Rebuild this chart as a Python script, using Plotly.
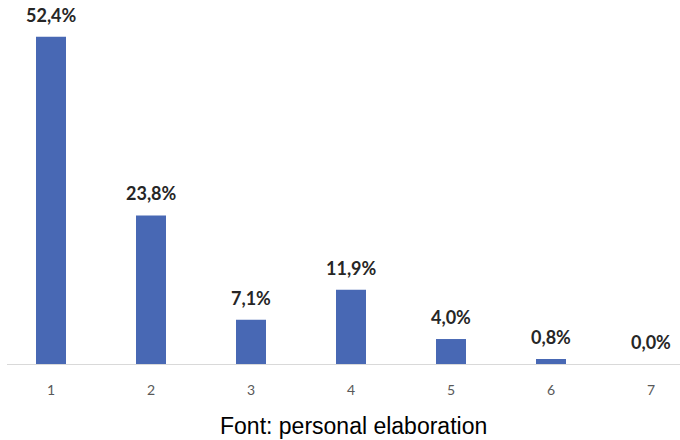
import plotly.graph_objects as go

categories = [1, 2, 3, 4, 5, 6, 7]
values = [52.4, 23.8, 7.1, 11.9, 4.0, 0.8, 0.0]
labels = ["52,4%", "23,8%", "7,1%", "11,9%", "4,0%", "0,8%", "0,0%"]
tick_labels = ["1", "2", "3", "4", "5", "6", "7"]
caption = "Font: personal elaboration"

fig = go.Figure()
fig.add_trace(go.Bar(
    x=categories, y=values, width=0.3,
    marker=dict(color="#4868B4", line=dict(width=0)),
    hoverinfo="skip",
))

for c, v, t in zip(categories, values, labels):
    fig.add_annotation(
        x=c, y=v, text="<b>" + t + "</b>", showarrow=False,
        yanchor="bottom", yshift=9,
        font=dict(family="Lato, Open Sans, sans-serif", size=18, color="#262626"),
    )

fig.add_annotation(
    xref="paper", yref="paper", x=0.515, y=-0.17, yanchor="middle",
    text=caption, showarrow=False,
    font=dict(family="Liberation Sans, Arial, sans-serif", size=23, color="#000000"),
)

fig.update_layout(
    width=680, height=440,
    margin=dict(l=7, r=0, t=0, b=76),
    paper_bgcolor="white", plot_bgcolor="white",
    showlegend=False,
    xaxis=dict(
        range=[0.56, 7.29], tickvals=categories, ticktext=tick_labels,
        showgrid=False, zeroline=False, showline=True,
        linecolor="#D9D9D9", linewidth=1,
        ticks="outside", ticklen=13, tickcolor="rgba(0,0,0,0)",
        tickfont=dict(family="Lato, Open Sans, sans-serif", size=14, color="#595959"),
    ),
    yaxis=dict(
        range=[0, 58.3], visible=False, showgrid=False, zeroline=False,
    ),
)

fig.write_html("out.html")
